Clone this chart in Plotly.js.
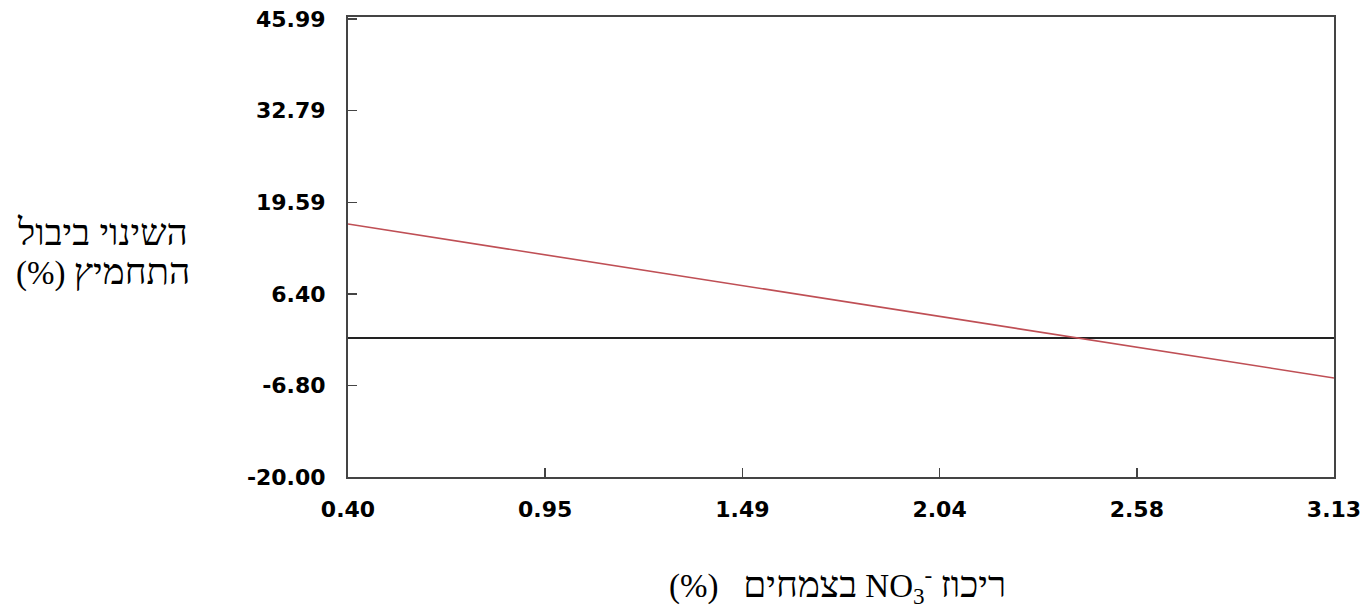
<!DOCTYPE html>
<html>
<head>
<meta charset="utf-8">
<script src="https://cdn.plot.ly/plotly-3.0.1.min.js"></script>
<style>html,body{margin:0;padding:0;background:#fff;}#chart{width:1365px;height:608px;}</style>
</head>
<body>
<div id="chart"></div>
<script>
// Data
var xValues = [0.40, 3.13];
var yValues = [16.46, -5.73];
var xTickVals = [0.40, 0.946, 1.492, 2.038, 2.584, 3.13];
var xTickText = ["0.40", "0.95", "1.49", "2.04", "2.58", "3.13"];
var yTickVals = [-20.00, -6.80, 6.40, 19.59, 32.79, 45.99];
var yTickText = ["-20.00", "-6.80", "6.40", "19.59", "32.79", "45.99"];
var yTitleLine1 = "<span style='font-size:37px'>השינוי ביבול</span>";
var yTitleLine2 = "(%) <span style='font-size:37px'>התחמיץ</span>";
var xTitleText = "(%)&nbsp;&nbsp; <span style='font-size:37px'>בצמחים</span> NO<sub>3</sub><sup>-</sup> <span style='font-size:37px'>ריכוז</span>";

var tickFont = {family: "DejaVu Sans", size: 22, color: "#000", weight: "bold"};
var titleFont = {family: "Liberation Serif, DejaVu Serif, serif", size: 33, color: "#000"};

var trace = {
  x: xValues, y: yValues, type: "scatter", mode: "lines",
  line: {color: "#bf4f55", width: 1.6}, hoverinfo: "skip"
};

var layout = {
  width: 1365, height: 608,
  margin: {l: 348, r: 31, t: 17, b: 131, pad: 0},
  paper_bgcolor: "#fff", plot_bgcolor: "#fff",
  showlegend: false,
  xaxis: {
    range: [0.40, 3.13], tickmode: "array", tickvals: xTickVals, ticktext: xTickText,
    ticks: "inside", ticklen: 9, tickwidth: 1.5, tickcolor: "#444",
    showgrid: false, zeroline: false, showline: true, linecolor: "#444", linewidth: 2,
    mirror: true, tickfont: tickFont, ticklabelstandoff: 12
  },
  yaxis: {
    range: [-20, 46.3], tickmode: "array", tickvals: yTickVals, ticktext: yTickText,
    ticks: "inside", ticklen: 9, tickwidth: 1.5, tickcolor: "#444",
    showgrid: false, zeroline: true, zerolinecolor: "#222", zerolinewidth: 1.5,
    showline: true, linecolor: "#444", linewidth: 2, mirror: true,
    tickfont: tickFont, ticklabelstandoff: 16
  },
  annotations: [
    {text: yTitleLine1, xref: "paper", yref: "paper", x: -0.2487, y: 0.5326,
     xanchor: "center", yanchor: "middle", showarrow: false, font: titleFont},
    {text: yTitleLine2, xref: "paper", yref: "paper", x: -0.2487, y: 0.4457,
     xanchor: "center", yanchor: "middle", showarrow: false, font: titleFont},
    {text: xTitleText, xref: "paper", yref: "paper", x: 0.4965, y: -0.2348,
     xanchor: "center", yanchor: "middle", showarrow: false, font: titleFont}
  ]
};

Plotly.newPlot("chart", [trace], layout, {staticPlot: true, displayModeBar: false});
</script>
</body>
</html>
